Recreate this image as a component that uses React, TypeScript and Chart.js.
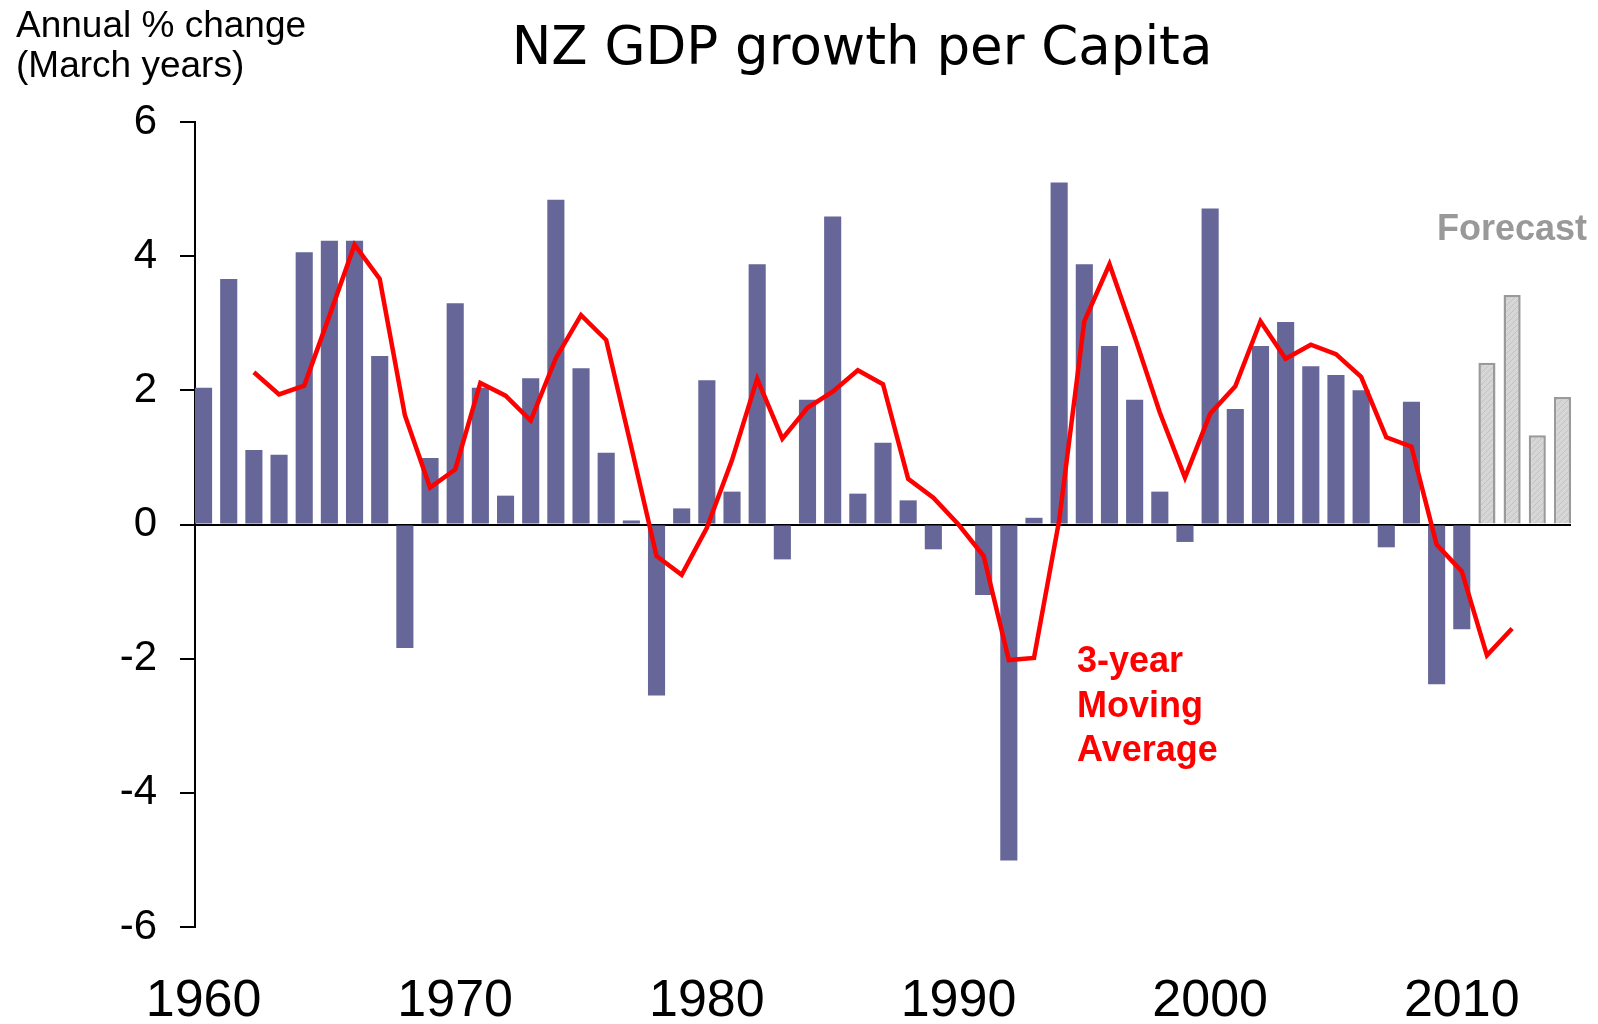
import React, { useEffect, useRef } from 'react';
import { Chart, registerables } from 'chart.js';

Chart.register(...registerables);

// ---- Data ----
const years = [
  1960, 1961, 1962, 1963, 1964, 1965, 1966, 1967, 1968, 1969,
  1970, 1971, 1972, 1973, 1974, 1975, 1976, 1977, 1978, 1979,
  1980, 1981, 1982, 1983, 1984, 1985, 1986, 1987, 1988, 1989,
  1990, 1991, 1992, 1993, 1994, 1995, 1996, 1997, 1998, 1999,
  2000, 2001, 2002, 2003, 2004, 2005, 2006, 2007, 2008, 2009,
  2010, 2011, 2012, 2013, 2014,
];

const actualGrowth: (number | null)[] = [
  2.04, 3.66, 1.11, 1.04, 4.06, 4.23, 4.23, 2.51, -1.84, 0.99,
  3.30, 2.04, 0.43, 2.18, 4.84, 2.33, 1.07, 0.06, -2.55, 0.24,
  2.15, 0.49, 3.88, -0.52, 1.86, 4.59, 0.46, 1.22, 0.36, -0.37,
  0.0, -1.05, -5.01, 0.10, 5.10, 3.88, 2.66, 1.86, 0.49, -0.26,
  4.71, 1.72, 2.66, 3.02, 2.36, 2.23, 2.00, -0.34, 1.83, -2.38,
  -1.56, null, null, null, null,
];

const forecastGrowth: (number | null)[] = [
  null, null, null, null, null, null, null, null, null, null,
  null, null, null, null, null, null, null, null, null, null,
  null, null, null, null, null, null, null, null, null, null,
  null, null, null, null, null, null, null, null, null, null,
  null, null, null, null, null, null, null, null, null, null,
  null, 2.41, 3.42, 1.33, 1.90,
];

const movingAverage: (number | null)[] = [
  null, null, 2.27, 1.94, 2.07, 3.11, 4.17, 3.66, 1.63, 0.55,
  0.82, 2.11, 1.92, 1.55, 2.48, 3.12, 2.75, 1.15, -0.47, -0.75,
  -0.05, 0.96, 2.17, 1.28, 1.74, 1.98, 2.30, 2.09, 0.68, 0.40,
  0.00, -0.47, -2.02, -1.99, 0.06, 3.03, 3.88, 2.80, 1.67, 0.70,
  1.65, 2.06, 3.03, 2.47, 2.68, 2.54, 2.20, 1.30, 1.16, -0.30,
  -0.70, -1.95, -1.55, null, null,
];

const xTickYears = [1960, 1970, 1980, 1990, 2000, 2010];
const yMin = -6;
const yMax = 6;
const yStep = 2;

const chartTitle = 'NZ GDP growth per Capita';
const yAxisTitle = ['Annual % change', '(March years)'];
const forecastLabel = 'Forecast';
const maLabel = ['3-year', 'Moving', 'Average'];

const SANS = '"Liberation Sans", Arial, Helvetica, sans-serif';

function toPoints(vals: (number | null)[]) {
  return years
    .map((x, i) => ({ x, y: vals[i] }))
    .filter((p) => p.y !== null) as { x: number; y: number }[];
}

function makeHatch(): CanvasPattern | string {
  const c = document.createElement('canvas');
  c.width = 6;
  c.height = 6;
  const g = c.getContext('2d');
  if (!g) return '#d4d4d4';
  g.fillStyle = '#d6d6d6';
  g.fillRect(0, 0, 6, 6);
  g.strokeStyle = '#c2c2c2';
  g.lineWidth = 1;
  g.beginPath();
  g.moveTo(0, 6);
  g.lineTo(6, 0);
  g.stroke();
  const p = g.createPattern(c, 'repeat');
  return p || '#d4d4d4';
}

const textPlugin = {
  id: 'textOverlay',
  afterDraw(chart: any) {
    const ctx = chart.ctx as CanvasRenderingContext2D;
    ctx.save();
    ctx.textBaseline = 'alphabetic';

    // Title
    ctx.fillStyle = '#000';
    ctx.font = `53px "DejaVu Sans", Verdana, sans-serif`;
    ctx.textAlign = 'center';
    ctx.fillText(chartTitle, 862, 64);

    // Y axis title
    ctx.textAlign = 'left';
    ctx.font = `37px ${SANS}`;
    ctx.fillText(yAxisTitle[0], 16, 37);
    ctx.fillText(yAxisTitle[1], 16, 77);

    // Forecast label
    ctx.fillStyle = '#999999';
    ctx.font = `bold 36px ${SANS}`;
    ctx.fillText(forecastLabel, 1437, 240);

    // Moving average label
    ctx.fillStyle = '#ff0000';
    ctx.font = `bold 36px ${SANS}`;
    maLabel.forEach((t, i) => ctx.fillText(t, 1077, 672 + i * 44.5));

    ctx.restore();
  },
};

export default function App() {
  const canvasRef = useRef<HTMLCanvasElement | null>(null);

  useEffect(() => {
    document.body.style.margin = '0';
    const canvas = canvasRef.current;
    if (!canvas) return;
    const hatch = makeHatch();

    const chart = new Chart(canvas, {
      type: 'bar',
      data: {
        datasets: [
          {
            type: 'line',
            label: '3-year Moving Average',
            data: toPoints(movingAverage),
            borderColor: '#ff0000',
            borderWidth: 4.5,
            pointRadius: 0,
            fill: false,
            tension: 0,
            order: 0,
          } as any,
          {
            type: 'bar',
            label: 'GDP growth per capita',
            data: toPoints(actualGrowth),
            backgroundColor: '#666699',
            borderWidth: 0,
            grouped: false,
            categoryPercentage: 1,
            barPercentage: 0.68,
            order: 1,
          } as any,
          {
            type: 'bar',
            label: 'Forecast',
            data: toPoints(forecastGrowth),
            backgroundColor: hatch,
            borderColor: '#9a9a9a',
            borderWidth: 2.5,
            borderSkipped: 'start',
            grouped: false,
            categoryPercentage: 1,
            barPercentage: 0.68,
            order: 2,
          } as any,
        ],
      },
      options: {
        responsive: false,
        animation: false,
        devicePixelRatio: 1,
        layout: { padding: { top: 122, right: 27, bottom: 0, left: 0 } },
        plugins: {
          legend: { display: false },
          tooltip: { enabled: false },
          title: { display: false },
        },
        scales: {
          x: {
            type: 'linear',
            offset: false,
            bounds: 'data',
            grace: 0,
            min: 1959.66,
            max: 2014.34,
            afterFit: (s: any) => {
              s.height = 97;
            },
            afterBuildTicks: (s: any) => {
              s.ticks = xTickYears.map((v) => ({ value: v }));
            },
            grid: { display: false, drawTicks: false, offset: false },
            border: { display: false },
            ticks: {
              autoSkip: false,
              maxRotation: 0,
              padding: 43,
              color: '#000',
              font: { family: SANS, size: 52 },
              callback: (v: any) => String(v),
            },
          },
          y: {
            min: yMin,
            max: yMax,
            afterFit: (s: any) => {
              s.width = 195;
            },
            grid: {
              color: (ctx: any) =>
                ctx.tick && ctx.tick.value === 0 ? '#000000' : 'rgba(0,0,0,0)',
              lineWidth: 2,
              tickColor: '#000000',
              tickLength: 15,
              tickWidth: 2,
              drawTicks: true,
            },
            border: { display: true, color: '#000000', width: 2 },
            ticks: {
              stepSize: yStep,
              padding: 23,
              color: '#000',
              font: { family: SANS, size: 42 },
              callback: (v: any) => String(v),
            },
          },
        },
      },
      plugins: [textPlugin],
    });

    return () => chart.destroy();
  }, []);

  return (
    <div style={{ width: 1598, height: 1024, background: '#fff' }}>
      <canvas
        ref={canvasRef}
        width={1598}
        height={1024}
        style={{ display: 'block', width: 1598, height: 1024 }}
      />
    </div>
  );
}
